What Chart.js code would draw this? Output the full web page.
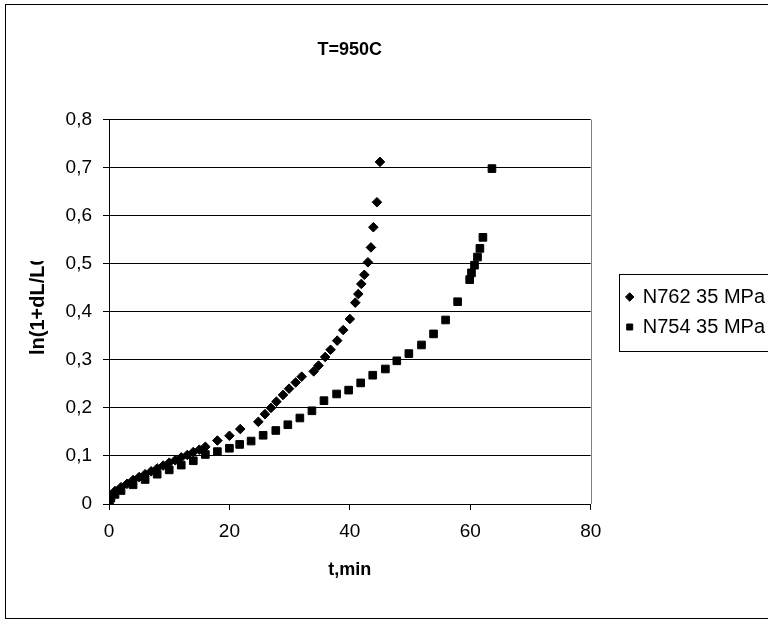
<!DOCTYPE html>
<html>
<head>
<meta charset="utf-8">
<script src="https://cdn.jsdelivr.net/npm/chart.js@4/dist/chart.umd.min.js"></script>
<style>
  html, body { margin: 0; padding: 0; background: #fff; }
  #wrap { position: relative; width: 768px; height: 624px; overflow: hidden; }
  canvas { display: block; }
</style>
</head>
<body>
<div id="wrap"><canvas id="c" width="768" height="624"></canvas></div>
<script>
// Creep curves at T=950C: true strain ln(1+dL/L0) against time in minutes
const seriesNames = ['N762 35 MPa', 'N754 35 MPa'];

const n762Time   = [0, 0.2, 0.5, 1, 2, 3, 4, 5, 6, 7, 8, 9, 10, 11, 12, 13, 14, 15, 16, 18, 20, 21.8,
                    24.8, 25.9, 26.9, 27.8, 28.9, 29.9, 31.0, 32.0, 34.0, 34.8, 35.9, 36.8, 37.9, 38.9,
                    40.0, 40.9, 41.4, 41.9, 42.4, 43.0, 43.5, 43.9, 44.5, 45.0];
const n762Strain = [0.000, 0.010, 0.019, 0.027, 0.035, 0.042, 0.050, 0.056, 0.062, 0.068, 0.074, 0.080,
                    0.086, 0.091, 0.097, 0.102, 0.108, 0.113, 0.119, 0.132, 0.142, 0.156,
                    0.171, 0.187, 0.200, 0.213, 0.227, 0.240, 0.253, 0.265, 0.276, 0.288, 0.306, 0.321,
                    0.340, 0.362, 0.385, 0.419, 0.437, 0.458, 0.477, 0.503, 0.534, 0.576, 0.628, 0.712];

const n754Time   = [0, 0.3, 1, 2, 4, 6, 8, 10, 12, 14, 16, 18, 20, 21.7, 23.6, 25.6, 27.7, 29.7, 31.7,
                    33.7, 35.7, 37.8, 39.8, 41.8, 43.8, 45.9, 47.8, 49.8, 51.9, 53.9, 55.9, 57.9, 59.9,
                    60.2, 60.7, 61.2, 61.6, 62.1, 63.6];
const n754Strain = [0.004, 0.012, 0.020, 0.028, 0.040, 0.051, 0.062, 0.071, 0.081, 0.090, 0.103, 0.109,
                    0.116, 0.124, 0.131, 0.143, 0.153, 0.165, 0.179, 0.194, 0.215, 0.229, 0.237, 0.252,
                    0.268, 0.281, 0.298, 0.313, 0.331, 0.354, 0.383, 0.421, 0.467, 0.481, 0.497, 0.514,
                    0.532, 0.555, 0.698];

const xTicks = [0, 20, 40, 60, 80];
const yTicks = [0, 0.1, 0.2, 0.3, 0.4, 0.5, 0.6, 0.7, 0.8];

const chartTitle = 'T=950C';
const xTitle = 't,min';
const yTitle = 'ln(1+dL/L0)';

const FONT = "'Liberation Sans', Arial, sans-serif";

function pairs(xs, ys) {
  return xs.map((x, i) => ({ x: x, y: ys[i] }));
}

// Outer frame, plot border, legend frame and the clipped vertical axis title
const decorations = {
  id: 'decorations',
  afterLayout(chart) {
    // leave a gap between the plot and the legend box
    const lg = chart.legend;
    if (lg) {
      const shift = chart.chartArea.right + 26 - lg.left;
      lg.left += shift;
      lg.right += shift;
    }
  },
  beforeDraw(chart) {
    const ctx = chart.ctx;
    ctx.save();
    ctx.fillStyle = '#fff';
    ctx.fillRect(0, 0, chart.width, chart.height);
    ctx.strokeStyle = '#000';
    ctx.lineWidth = 1;
    ctx.strokeRect(5.5, 4.5, 820, 614);
    ctx.restore();
  },
  beforeDatasetsDraw(chart) {
    const { ctx, chartArea: a } = chart;
    ctx.save();
    ctx.strokeStyle = '#808080';
    ctx.lineWidth = 1;
    ctx.beginPath();
    ctx.moveTo(Math.round(a.right) + 0.5, a.top);
    ctx.lineTo(Math.round(a.right) + 0.5, a.bottom);
    ctx.stroke();
    ctx.restore();
  },
  afterDraw(chart) {
    const ctx = chart.ctx;
    const boxes = chart.legend && chart.legend.legendHitBoxes;
    if (boxes && boxes.length) {
      const first = boxes[0], last = boxes[boxes.length - 1];
      const left = Math.round(first.left) - 7.5;
      const top = Math.round(first.top) - 12.5;
      const bottom = Math.round(last.top + last.height) + 14.5;
      ctx.save();
      ctx.strokeStyle = '#000';
      ctx.lineWidth = 1;
      ctx.strokeRect(left, top, 400, bottom - top);
      ctx.restore();
    }
    ctx.save();
    ctx.beginPath();
    ctx.rect(0, 261, 80, 400);
    ctx.clip();
    ctx.translate(38, 355);
    ctx.rotate(-Math.PI / 2);
    ctx.font = 'bold 20px ' + FONT;
    ctx.fillStyle = '#000';
    ctx.textAlign = 'left';
    ctx.textBaseline = 'middle';
    ctx.fillText(yTitle, 0, 0);
    ctx.restore();
  }
};

const fmtComma = v => (Math.abs(v) < 1e-9 ? '0' : v.toFixed(1).replace('.', ','));

new Chart(document.getElementById('c'), {
  type: 'scatter',
  data: {
    datasets: [
      {
        label: seriesNames[0],
        data: pairs(n762Time, n762Strain),
        pointStyle: 'rectRot',
        pointRadius: 4.8,
        borderWidth: 1,
        backgroundColor: '#000',
        borderColor: '#000',
        showLine: false
      },
      {
        label: seriesNames[1],
        data: pairs(n754Time, n754Strain),
        pointStyle: 'rect',
        pointRadius: 5.4,
        borderWidth: 1,
        backgroundColor: '#000',
        borderColor: '#000',
        showLine: false
      }
    ]
  },
  options: {
    responsive: false,
    animation: false,
    devicePixelRatio: 1,
    layout: { padding: { left: 0, top: 0, right: 19, bottom: 0 } },
    plugins: {
      title: {
        display: true,
        text: chartTitle,
        fullSize: false,
        color: '#000',
        font: { family: FONT, size: 18, weight: 'bold' },
        padding: { top: 39, bottom: 59 }
      },
      legend: {
        position: 'right',
        labels: {
          color: '#000',
          font: { family: FONT, size: 20 },
          usePointStyle: true,
          boxWidth: 6,
          boxHeight: 6,
          padding: 10
        }
      },
      tooltip: { enabled: false }
    },
    scales: {
      x: {
        type: 'linear',
        min: 0,
        max: 80,
        afterBuildTicks: s => { s.ticks = xTicks.map(v => ({ value: v })); },
        ticks: { color: '#000', font: { family: FONT, size: 19 }, padding: 10, maxRotation: 0 },
        grid: { drawOnChartArea: false, drawTicks: true, tickLength: 6, color: '#000' },
        border: { color: '#000', width: 1 },
        title: {
          display: true,
          text: xTitle,
          color: '#000',
          font: { family: FONT, size: 18, weight: 'bold' },
          padding: { top: 0, bottom: 43 }
        },
        afterFit: s => { s.height = 120; }
      },
      y: {
        type: 'linear',
        min: 0,
        max: 0.8,
        afterBuildTicks: s => { s.ticks = yTicks.map(v => ({ value: v })); },
        ticks: { color: '#000', font: { family: FONT, size: 19 }, padding: 11, callback: v => fmtComma(v) },
        grid: { color: '#000', tickLength: 6, tickColor: '#000' },
        border: { color: '#000', width: 1 },
        afterFit: s => { s.width = 109; }
      }
    }
  },
  plugins: [decorations]
});
</script>
</body>
</html>
